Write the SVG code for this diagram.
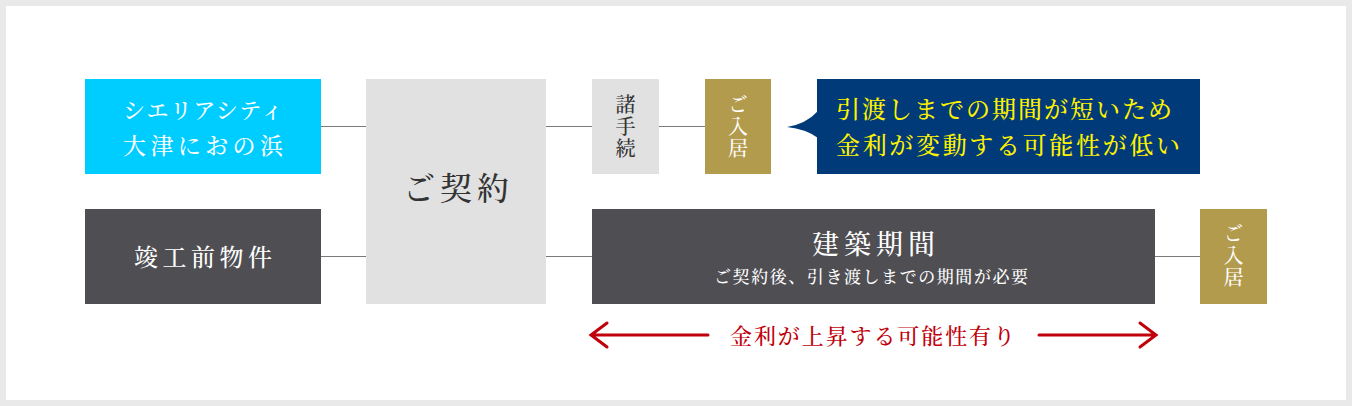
<svg xmlns="http://www.w3.org/2000/svg" width="1352" height="406" viewBox="0 0 1352 406">
<defs>
<style>
text { font-family: "Noto Serif CJK JP", "Noto Sans CJK JP", serif; font-weight: 500; }
.w { fill: #ffffff; }
.k { fill: #333333; }
.y { fill: #fff200; }
.r { fill: #c0000b; }
.v { writing-mode: vertical-rl; letter-spacing: 2px; font-size: 20px; }
.conn line { stroke: #7a7a7a; stroke-width: 1; }
.arr { stroke: #c0000b; stroke-width: 3; fill: none; stroke-linecap: round; }
</style>
</defs>
<rect x="0" y="0" width="1352" height="406" fill="#e9e9e9"/>
<rect x="6" y="6" width="1340" height="394" fill="#ffffff"/>

<g id="connectors" class="conn">
<line x1="321" y1="126.5" x2="366" y2="126.5"/>
<line x1="321" y1="256.5" x2="366" y2="256.5"/>
<line x1="546" y1="126.5" x2="592" y2="126.5"/>
<line x1="546" y1="256.5" x2="592" y2="256.5"/>
<line x1="659" y1="126.5" x2="705" y2="126.5"/>
<line x1="1155" y1="256.5" x2="1200" y2="256.5"/>
</g>

<g id="node-sieria">
<rect x="85" y="79" width="236" height="95" fill="#00cdff"/>
<text class="w" x="123" y="118" font-size="22" textLength="160" lengthAdjust="spacing">シエリアシティ</text>
<text class="w" x="123" y="154" font-size="23" textLength="160" lengthAdjust="spacing">大津におの浜</text>
</g>

<g id="node-mikansei">
<rect x="85" y="209" width="236" height="95" fill="#4f4e53"/>
<text class="w" x="134" y="266" font-size="24" textLength="138" lengthAdjust="spacing">竣工前物件</text>
</g>

<g id="node-keiyaku">
<rect x="366" y="79" width="180" height="225" fill="#e1e1e1"/>
<text class="k" x="403" y="200" font-size="32" textLength="106" lengthAdjust="spacing">ご契約</text>
</g>

<g id="node-tetsuzuki">
<rect x="592" y="79" width="67" height="95" fill="#e1e1e1"/>
<text class="k v" x="625.5" y="94">諸手続</text>
</g>

<g id="node-nyukyo1">
<rect x="705" y="79" width="66" height="95" fill="#b39b4e"/>
<text class="w v" x="738" y="94">ご入居</text>
</g>

<g id="node-callout">
<rect x="817" y="79" width="383" height="95" fill="#013a78"/>
<path d="M818,111 Q806,124 787,127 Q806,129 818,138 Z" fill="#013a78"/>
<text class="y" x="836" y="118" font-size="24" textLength="336" lengthAdjust="spacing">引渡しまでの期間が短いため</text>
<text class="y" x="836" y="154" font-size="24" textLength="344" lengthAdjust="spacing">金利が変動する可能性が低い</text>
</g>

<g id="node-kenchiku">
<rect x="592" y="209" width="563" height="95" fill="#4f4e53"/>
<text class="w" x="812" y="254" font-size="27" textLength="123" lengthAdjust="spacing">建築期間</text>
<text class="w" x="714" y="283" font-size="17" textLength="314" lengthAdjust="spacing">ご契約後、引き渡しまでの期間が必要</text>
</g>

<g id="node-nyukyo2">
<rect x="1200" y="209" width="67" height="95" fill="#b39b4e"/>
<text class="w v" x="1233.5" y="223">ご入居</text>
</g>

<g id="rate-arrow">
<path class="arr" d="M708,335 L591,335 M607,323 L591,335 L607,347"/>
<path class="arr" d="M1039,335 L1156,335 M1140,323 L1156,335 L1140,347"/>
<text class="r" x="730" y="344" font-size="22" textLength="285" lengthAdjust="spacing">金利が上昇する可能性有り</text>
</g>
</svg>
